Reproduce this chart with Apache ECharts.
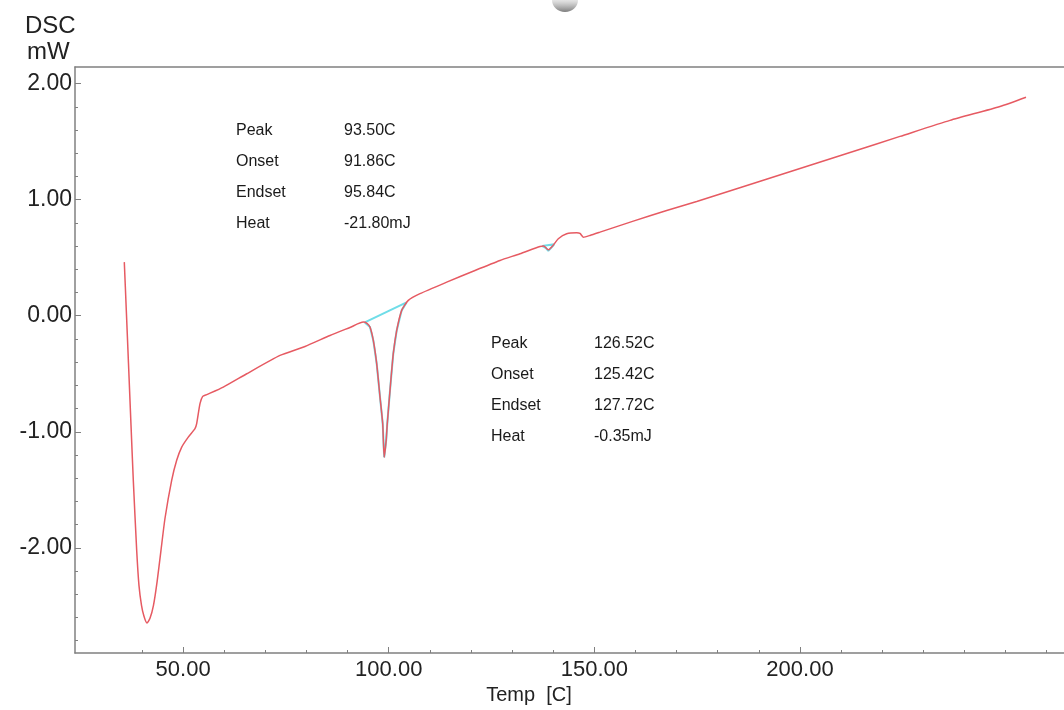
<!DOCTYPE html>
<html>
<head>
  <meta charset="utf-8">
  <title>DSC curve</title>
  <script src="https://cdn.jsdelivr.net/npm/echarts@6/dist/echarts.min.js"></script>
  <style>
    html, body { margin: 0; padding: 0; background: #fff; }
    #chart { width: 1064px; height: 710px; }
  </style>
</head>
<body>
  <div id="chart"></div>
  <script>
    // DSC trace: temperature (C) and heat flow (mW)
    const tempC = [41.21, 41.61, 42.05, 42.56, 43.02, 43.70, 44.16, 44.67, 45.17, 45.77,
      46.38, 47.08, 47.79, 48.59, 49.40, 50.74, 51.75, 52.76, 54.08, 55.43,
      55.77, 56.44, 56.98, 57.79, 61.13, 65.84, 72.54, 77.57, 82.60, 86.62,
      89.30, 90.04, 90.64, 91.31, 91.99, 92.66, 93.20, 93.50, 93.90, 94.12,
      94.67, 95.33, 96.02, 97.02, 98.35, 100.70, 106.08, 111.77, 116.80, 120.82,
      124.85, 125.60, 126.52, 127.46, 128.53, 130.22, 132.23, 132.90, 133.56, 134.91,
      136.92, 143.62, 150.34, 156.38, 167.10, 177.16, 187.22, 197.28, 207.34, 217.40,
      222.64];
    const dscMW = [0.462, 0.050, -0.410, -0.945, -1.418, -2.021, -2.323, -2.495, -2.590, -2.648,
      -2.607, -2.495, -2.297, -2.021, -1.745, -1.418, -1.246, -1.132, -1.046, -0.973,
      -0.930, -0.758, -0.695, -0.680, -0.615, -0.500, -0.342, -0.265, -0.170, -0.101,
      -0.055, -0.066, -0.098, -0.213, -0.413, -0.701, -0.930, -1.220, -1.074, -0.930,
      -0.643, -0.327, -0.127, 0.046, 0.132, 0.190, 0.289, 0.390, 0.476, 0.534,
      0.597, 0.600, 0.568, 0.605, 0.663, 0.706, 0.715, 0.709, 0.677, 0.692,
      0.720, 0.815, 0.907, 0.984, 1.131, 1.269, 1.407, 1.545, 1.683, 1.803,
      1.883];

    // integration areas (peak curve + straight baseline)
    const peak1T = [89.6, 90.64, 91.31, 91.99, 92.66, 93.20, 93.50, 93.90, 94.12, 94.67, 95.33, 96.02, 97.02, 98.0, 89.6];
    const peak1MW = [-0.058, -0.098, -0.213, -0.413, -0.701, -0.930, -1.220, -1.074, -0.930, -0.643, -0.327, -0.127, 0.046, 0.115, -0.058];
    const peak2T = [125.3, 126.0, 126.52, 127.1, 127.7, 125.3];
    const peak2MW = [0.600, 0.585, 0.560, 0.585, 0.615, 0.600];

    // axis ticks
    const xTicks = [50, 100, 150, 200];
    const xMinorTicks = [40, 60, 70, 80, 90, 110, 120, 130, 140, 160, 170, 180, 190, 210, 220, 230, 240, 250, 260];
    const yTicks = [-2, -1, 0, 1, 2];
    const yMinorTicks = [-2.8, -2.6, -2.4, -2.2, -1.8, -1.6, -1.4, -1.2, -0.8, -0.6, -0.4, -0.2,
      0.2, 0.4, 0.6, 0.8, 1.2, 1.4, 1.6, 1.8];

    const peak1Labels = ['Peak', 'Onset', 'Endset', 'Heat'];
    const peak1Values = ['93.50C', '91.86C', '95.84C', '-21.80mJ'];
    const peak2Labels = ['Peak', 'Onset', 'Endset', 'Heat'];
    const peak2Values = ['126.52C', '125.42C', '127.72C', '-0.35mJ'];

    const FONT = '"Liberation Sans", Arial, sans-serif';
    const AXIS_COLOR = '#808080';
    const yMin = -2.906, yMax = 2.143;
    // the printed temperature scale is not linear with the trace in the source,
    // so the labelled axis and the data axis get their own ranges
    const labelMin = 23.71, labelMax = 264.2;
    const dataMin = 31.29, dataMax = 230.28;

    const zip = (a, b) => a.map((v, i) => [v, b[i]]);

    function textBlock(labels, values, x1, x2, y0, step) {
      const out = [];
      labels.forEach((t, i) => {
        out.push({ type: 'text', x: x1, y: y0 + i * step,
          style: { text: t, font: '16px ' + FONT, fill: '#1a1a1a', verticalAlign: 'middle' } });
        out.push({ type: 'text', x: x2, y: y0 + i * step,
          style: { text: values[i], font: '16px ' + FONT, fill: '#1a1a1a', verticalAlign: 'middle' } });
      });
      return out;
    }

    const chart = echarts.init(document.getElementById('chart'));
    chart.setOption({
      animation: false,
      backgroundColor: '#fff',
      grid: { left: 75, right: 0, top: 67, bottom: 57 },
      xAxis: [
        { // data axis
          type: 'value', min: dataMin, max: dataMax, position: 'bottom',
          axisLine: { show: false }, axisTick: { show: false },
          axisLabel: { show: false }, splitLine: { show: false }
        },
        { // labelled axis
          type: 'value', min: labelMin, max: labelMax, position: 'bottom',
          axisLine: { onZero: false, lineStyle: { color: AXIS_COLOR, width: 1.5 } },
          axisTick: { customValues: xTicks, inside: true, length: 6, lineStyle: { color: AXIS_COLOR } },
          axisLabel: { customValues: xTicks, margin: 6, fontSize: 22, fontFamily: FONT, color: '#222',
            formatter: v => v.toFixed(2) },
          splitLine: { show: false }
        },
        { // minor ticks
          type: 'value', min: labelMin, max: labelMax, position: 'bottom',
          axisLine: { show: false, onZero: false },
          axisTick: { customValues: xMinorTicks, inside: true, length: 3, lineStyle: { color: AXIS_COLOR } },
          axisLabel: { show: false }, splitLine: { show: false }
        },
        { // top frame line
          type: 'value', min: labelMin, max: labelMax, position: 'top',
          axisLine: { onZero: false, lineStyle: { color: AXIS_COLOR, width: 1.5 } },
          axisTick: { show: false }, axisLabel: { show: false }, splitLine: { show: false }
        }
      ],
      yAxis: [
        {
          type: 'value', min: yMin, max: yMax, position: 'left',
          axisLine: { show: true, onZero: false, lineStyle: { color: AXIS_COLOR, width: 1.5 } },
          axisTick: { customValues: yTicks, inside: true, length: 6, lineStyle: { color: AXIS_COLOR } },
          axisLabel: { customValues: yTicks, margin: 3, fontSize: 23, fontFamily: FONT, color: '#222',
            formatter: v => v.toFixed(2) },
          splitLine: { show: false }
        },
        {
          type: 'value', min: yMin, max: yMax, position: 'left',
          axisLine: { show: false, onZero: false },
          axisTick: { customValues: yMinorTicks, inside: true, length: 3, lineStyle: { color: AXIS_COLOR } },
          axisLabel: { show: false }, splitLine: { show: false }
        }
      ],
      series: [
        {
          type: 'line', xAxisIndex: 0, yAxisIndex: 0, data: zip(peak1T, peak1MW),
          showSymbol: false, lineStyle: { color: '#6fdde8', width: 2 }, z: 2
        },
        {
          type: 'line', xAxisIndex: 0, yAxisIndex: 0, data: zip(peak2T, peak2MW),
          showSymbol: false, lineStyle: { color: '#6fdde8', width: 2 }, z: 2
        },
        {
          type: 'line', xAxisIndex: 0, yAxisIndex: 0, data: zip(tempC, dscMW),
          showSymbol: false, smooth: 0.2, lineStyle: { color: '#e65a62', width: 1.5 }, z: 3
        }
      ],
      graphic: [
        { type: 'text', x: 25, y: 26, style: { text: 'DSC', font: '24px ' + FONT, fill: '#222', verticalAlign: 'middle' } },
        { type: 'text', x: 27, y: 52, style: { text: 'mW', font: '24px ' + FONT, fill: '#222', verticalAlign: 'middle' } },
        { type: 'text', x: 529, y: 695, style: { text: 'Temp  [C]', font: '20px ' + FONT, fill: '#222',
          align: 'center', verticalAlign: 'middle' } },
        { type: 'ellipse', shape: { cx: 565, cy: 0, rx: 13, ry: 12 },
          style: { fill: new echarts.graphic.LinearGradient(0, 0, 0, 1, [
            { offset: 0, color: 'rgba(255,255,255,0)' },
            { offset: 0.55, color: 'rgba(200,200,200,0.6)' },
            { offset: 1, color: 'rgba(110,110,110,0.9)' }
          ]) } }
      ].concat(
        textBlock(peak1Labels, peak1Values, 236, 344, 131, 31),
        textBlock(peak2Labels, peak2Values, 491, 594, 344, 31)
      )
    });
  </script>
</body>
</html>
